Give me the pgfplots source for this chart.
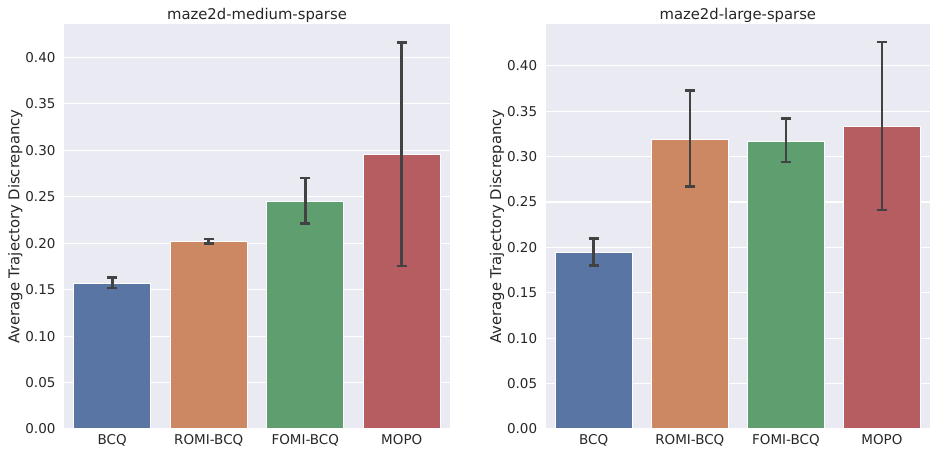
\documentclass[border=0pt]{standalone}
\usepackage{pgfplots}
\pgfplotsset{compat=1.18}
\usepackage{fontspec}
\setmainfont{DejaVu Sans}
\definecolor{bg}{HTML}{EAEAF2}
\definecolor{c1}{RGB}{89,117,164}
\definecolor{c2}{RGB}{204,136,99}
\definecolor{c3}{RGB}{95,158,110}
\definecolor{c4}{RGB}{181,93,96}
\definecolor{txt}{HTML}{262626}
\definecolor{err}{HTML}{424242}
\pgfplotsset{
  sns/.style={
    scale only axis, height=405pt, xmin=-0.5, xmax=3.5, ymin=0,
    axis background/.style={fill=bg},
    axis line style={draw=none},
    major tick length=0pt,
    ymajorgrids, grid style={white, line width=1.1pt},
    xtick={0,1,2,3}, xticklabels={BCQ,ROMI-BCQ,FOMI-BCQ,MOPO},
    ytick={0,0.05,0.10,0.15,0.20,0.25,0.30,0.35,0.40},
    /pgf/number format/assume math mode=true,
    yticklabel style={/pgf/number format/fixed, /pgf/number format/fixed zerofill, /pgf/number format/precision=2, xshift=-5pt},
    xticklabel style={yshift=-2pt},
    tick label style={font=\fontsize{13.5}{16}\selectfont, text=txt},
    label style={font=\fontsize{14.8}{18}\selectfont, text=txt},
    title style={font=\fontsize{14.8}{18}\selectfont, text=txt, yshift=-8pt},
    ylabel={Average Trajectory Discrepancy},
    ylabel shift=-4pt,
  },
  bar/.style={ybar, bar width=0.8, bar shift=0pt, draw=white, line width=1pt, fill=#1,
    error bars/.cd, y dir=both, y explicit,
    error bar style={draw=err, line width=2.6pt},
    error mark options={rotate=90, draw=err, line width=2.6pt, mark size=5pt}},
}
\begin{document}
\begin{tikzpicture}
\path[use as bounding box] (0,0) rectangle (930pt,452pt);
\begin{axis}[sns, at={(64pt,23pt)}, anchor=south west, width=386pt, ymax=0.436,
  title={maze2d-medium-sparse}]
\addplot[bar=c1] coordinates {(0,0.157) += (0,0.006) -= (0,0.005)};
\addplot[bar=c2] coordinates {(1,0.2016) += (0,0.003) -= (0,0.0021)};
\addplot[bar=c3] coordinates {(2,0.245) += (0,0.025) -= (0,0.0236)};
\addplot[bar=c4] coordinates {(3,0.295) += (0,0.121) -= (0,0.1195)};
\end{axis}
\begin{axis}[sns, at={(545.7pt,23pt)}, anchor=south west, width=384.3pt, ymax=0.446,
  title={maze2d-large-sparse}]
\addplot[bar=c1] coordinates {(0,0.194) += (0,0.016) -= (0,0.014)};
\addplot[bar=c2] coordinates {(1,0.319) += (0,0.054) -= (0,0.052)};
\addplot[bar=c3] coordinates {(2,0.317) += (0,0.025) -= (0,0.023)};
\addplot[bar=c4] coordinates {(3,0.333) += (0,0.093) -= (0,0.092)};
\end{axis}
\end{tikzpicture}
\end{document}
